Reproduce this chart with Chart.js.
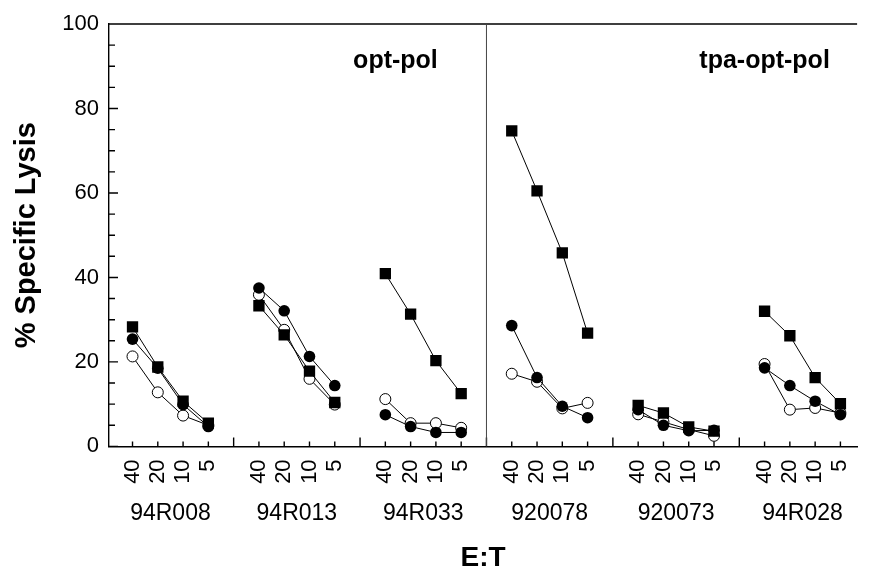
<!DOCTYPE html>
<html>
<head>
<meta charset="utf-8">
<script src="https://cdn.jsdelivr.net/npm/chart.js@4.4.1/dist/chart.umd.min.js"></script>
<style>
  body { margin: 0; background: #fff; }
  #wrap { width: 880px; height: 570px; }
</style>
</head>
<body>
<div id="wrap"><canvas id="lysis"></canvas></div>
<script>
const groups = ['94R008', '94R013', '94R033', '920078', '920073', '94R028'];
const ratios = ['40', '20', '10', '5'];
const panelLabels = ['opt-pol', 'tpa-opt-pol'];
const yTicks = [0, 20, 40, 60, 80, 100];

// one value per group x E:T ratio, group by group
const filledSquare = [28.3, 18.8, 10.7, 5.5,  33.3, 26.4, 17.8, 10.4,  40.9, 31.3, 20.3, 12.5,
                      74.7, 60.5, 45.8, 26.8,  9.7, 7.9, 4.6, 3.6,  32.0, 26.2, 16.3, 10.1];
const filledCircle = [25.4, 18.5, 9.9, 4.7,  37.5, 32.1, 21.3, 14.4,  7.5, 4.7, 3.3, 3.3,
                      28.6, 16.3, 9.5, 6.8,  8.7, 5.0, 3.7, 3.8,  18.6, 14.4, 10.7, 7.5];
const openCircle   = [21.3, 12.8, 7.3, 5.0,  35.9, 27.6, 16.0, 9.9,  11.2, 5.5, 5.5, 4.4,
                      17.2, 15.3, 9.0, 10.3,  7.6, 5.8, 4.0, 2.5,  19.5, 8.7, 9.1, 7.9];

const SLOT = ratios.length + 1; // 4 ratios + one empty slot between groups

function toPoints(values) {
  const pts = [];
  groups.forEach((g, gi) => {
    ratios.forEach((r, ri) => pts.push({ x: gi * SLOT + ri, y: values[gi * ratios.length + ri] }));
    pts.push({ x: gi * SLOT + ratios.length, y: null });
  });
  return pts;
}

const axisMarks = {
  id: 'axisMarks',
  beforeDatasetsDraw(chart) {
    const { ctx, chartArea: a, scales: { x, y } } = chart;
    ctx.save();
    ctx.strokeStyle = '#000';
    ctx.lineWidth = 1.4;
    ctx.beginPath();
    ctx.moveTo(a.left, a.top);
    ctx.lineTo(a.right, a.top);
    for (let v = 0; v <= 100; v += 5) {
      const py = y.getPixelForValue(v);
      ctx.moveTo(a.left, py);
      ctx.lineTo(a.left + (v % 20 === 0 ? 9 : 6), py);
    }
    x.ticks.forEach(t => {
      const px = x.getPixelForValue(t.value);
      ctx.moveTo(px, a.bottom);
      ctx.lineTo(px, a.bottom - 5);
    });
    for (let gi = 1; gi < groups.length; gi++) {
      const px = x.getPixelForValue(gi * SLOT - 1);
      ctx.moveTo(px, a.bottom);
      ctx.lineTo(px, a.bottom - 9);
    }
    ctx.stroke();

    // divider between the two constructs
    const dx = x.getPixelForValue(groups.length / 2 * SLOT - 1);
    ctx.strokeStyle = '#444';
    ctx.lineWidth = 1;
    ctx.beginPath();
    ctx.moveTo(dx, a.top);
    ctx.lineTo(dx, a.bottom);
    ctx.stroke();

    ctx.fillStyle = '#000';
    ctx.font = 'bold 25px "Liberation Sans", Arial, sans-serif';
    ctx.textAlign = 'center';
    ctx.textBaseline = 'alphabetic';
    ctx.fillText(panelLabels[0], x.getPixelForValue(10.4), y.getPixelForValue(89.6));
    ctx.fillText(panelLabels[1], x.getPixelForValue(25.0), y.getPixelForValue(89.6));
    ctx.restore();
  }
};

const ctx = document.getElementById('lysis');
const FONT = '"Liberation Sans", Arial, sans-serif';

new Chart(ctx, {
  type: 'line',
  data: {
    datasets: [{
      data: toPoints(filledSquare),
      borderColor: '#000',
      borderWidth: 1,
      pointStyle: 'rect',
      pointRadius: 8,
      pointBackgroundColor: '#000',
      pointBorderColor: '#000',
      pointBorderWidth: 0
    }, {
      data: toPoints(filledCircle),
      borderColor: '#000',
      borderWidth: 1,
      pointStyle: 'circle',
      pointRadius: 5.8,
      pointBackgroundColor: '#000',
      pointBorderColor: '#000',
      pointBorderWidth: 0
    }, {
      data: toPoints(openCircle),
      borderColor: '#000',
      borderWidth: 1,
      pointStyle: 'circle',
      pointRadius: 5.5,
      pointBackgroundColor: '#fff',
      pointBorderColor: '#000',
      pointBorderWidth: 1
    }]
  },
  options: {
    responsive: true,
    maintainAspectRatio: false,
    animation: false,
    spanGaps: false,
    layout: { padding: { top: 24, right: 0, bottom: 0, left: 0 } },
    plugins: { legend: { display: false }, tooltip: { enabled: false } },
    scales: {
      x: {
        type: 'linear',
        position: 'bottom',
        min: -0.93,
        max: 28.66,
        weight: 0,
        grid: { display: false, drawTicks: false },
        border: { display: true, color: '#000', width: 1.4 },
        afterBuildTicks: s => {
          s.ticks = [];
          groups.forEach((g, gi) => ratios.forEach((r, ri) => s.ticks.push({ value: gi * SLOT + ri })));
        },
        afterFit: s => { s.height = 40; },
        ticks: {
          autoSkip: false,
          minRotation: 90,
          maxRotation: 90,
          padding: 13,
          color: '#000',
          font: { family: FONT, size: 22 },
          callback: (v, i) => ratios[i % ratios.length]
        }
      },
      xg: {
        type: 'linear',
        position: 'bottom',
        min: -0.93,
        max: 28.66,
        weight: 1,
        grid: { display: false, drawTicks: false },
        border: { display: false },
        afterBuildTicks: s => {
          s.ticks = groups.map((g, gi) => ({ value: gi * SLOT + (ratios.length - 1) / 2 }));
        },
        afterFit: s => { s.height = 83.6; },
        ticks: {
          autoSkip: false,
          maxRotation: 0,
          padding: 13,
          color: '#000',
          font: { family: FONT, size: 23 },
          callback: (v, i) => groups[i]
        },
        title: {
          display: true,
          text: 'E:T',
          color: '#000',
          font: { family: FONT, size: 28, weight: 'bold', lineHeight: 1 },
          padding: { top: 0, bottom: -2 }
        }
      },
      y: {
        min: 0,
        max: 100,
        grid: { display: false, drawTicks: false },
        border: { display: true, color: '#000', width: 1.4 },
        afterBuildTicks: s => { s.ticks = yTicks.map(v => ({ value: v })); },
        afterFit: s => { s.width = 109; },
        ticks: {
          padding: 10,
          color: '#000',
          font: { family: FONT, size: 22 }
        },
        title: {
          display: true,
          text: '% Specific Lysis',
          color: '#000',
          font: { family: FONT, size: 29, weight: 'bold', lineHeight: 1.2 },
          padding: { top: 10, bottom: 0 }
        }
      }
    }
  },
  plugins: [axisMarks]
});
</script>
</body>
</html>
